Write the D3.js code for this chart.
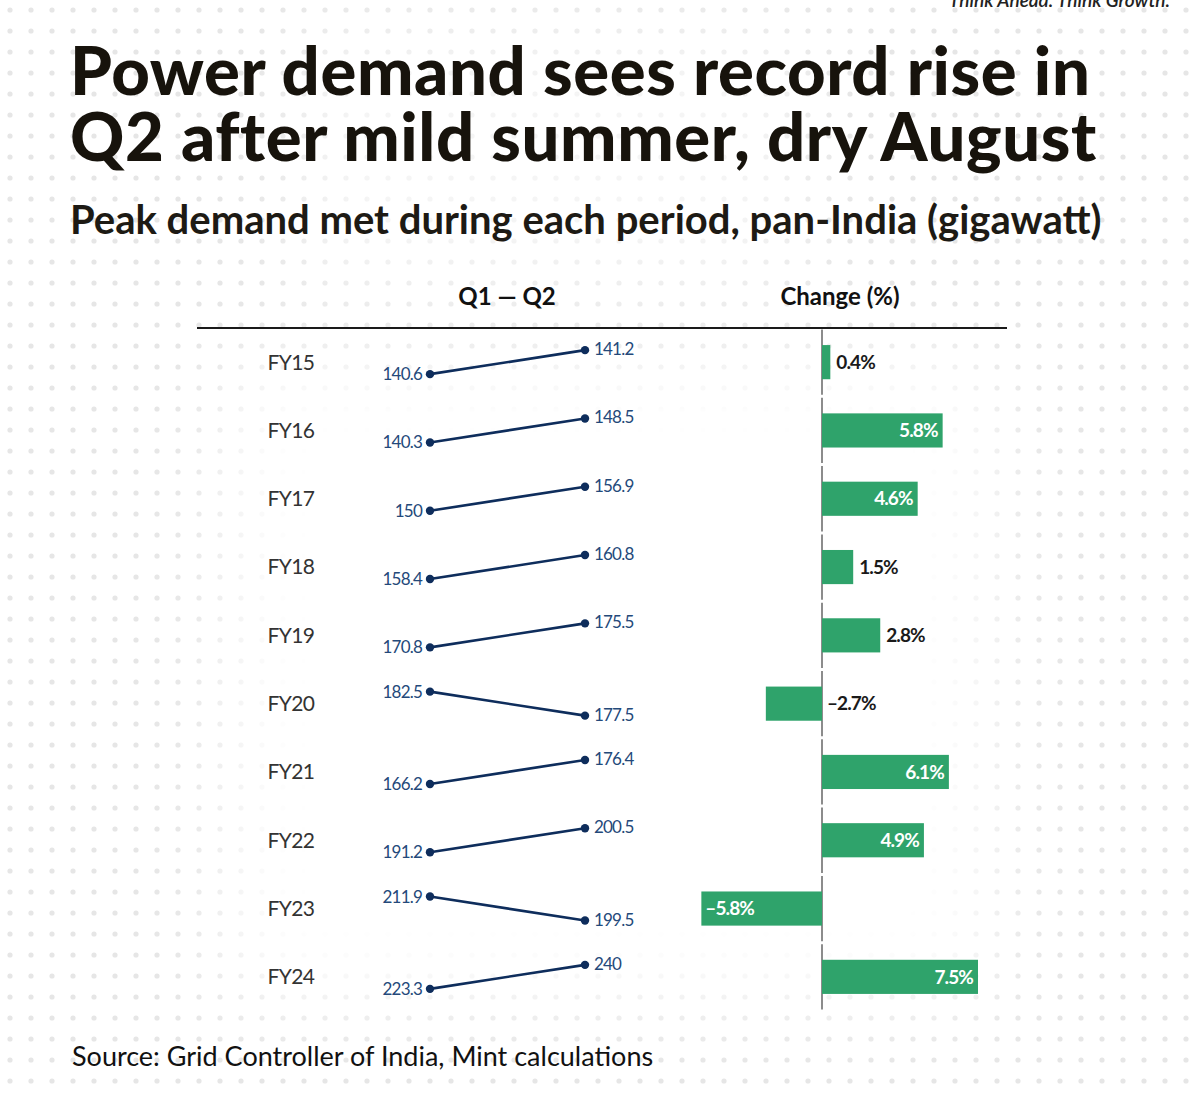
<meta charset="utf-8">
<body>
<div id="chart"></div>
</body>
<script src="https://cdn.jsdelivr.net/npm/d3@7"></script>
<script>
// data
var years = ["FY15", "FY16", "FY17", "FY18", "FY19", "FY20", "FY21", "FY22", "FY23", "FY24"];
var q1 = [140.6, 140.3, 150, 158.4, 170.8, 182.5, 166.2, 191.2, 211.9, 223.3];
var q2 = [141.2, 148.5, 156.9, 160.8, 175.5, 177.5, 176.4, 200.5, 199.5, 240];
var change = [0.4, 5.8, 4.6, 1.5, 2.8, -2.7, 6.1, 4.9, -5.8, 7.5];
var quarters = ["Q1", "Q2"];

var W = 1200, H = 1097;
var font = "Lato, 'Open Sans', sans-serif";

var svg = d3.select("#chart").append("svg")
  .attr("width", W)
  .attr("height", H)
  .style("font-family", font);

// dotted background, faded out in the middle
var defs = svg.append("defs");
var pat = defs.append("pattern")
  .attr("id", "dots")
  .attr("width", 21).attr("height", 21)
  .attr("patternUnits", "userSpaceOnUse");
pat.append("circle").attr("cx", 10).attr("cy", 10).attr("r", 2.6).attr("fill", "#e6e6e6");

defs.append("filter").attr("id", "soft")
  .attr("x", "-20%").attr("y", "-20%").attr("width", "140%").attr("height", "140%")
  .append("feGaussianBlur").attr("stdDeviation", 40);

svg.append("rect").attr("width", W).attr("height", H).attr("fill", "#fff");
svg.append("rect").attr("width", W).attr("height", H).attr("fill", "url(#dots)");
svg.append("rect")
  .attr("x", 230).attr("y", 360).attr("width", 760).attr("height", 640)
  .attr("fill", "#fff").attr("filter", "url(#soft)");
svg.append("rect")
  .attr("x", 300).attr("y", 30).attr("width", 500).attr("height", 260)
  .attr("fill", "#fff").attr("opacity", 0.6).attr("filter", "url(#soft)");

// brand strap, cut off at the top edge
svg.append("text")
  .attr("x", 1170).attr("y", 7)
  .attr("text-anchor", "end")
  .style("font-size", "19px")
  .style("font-style", "italic")
  .style("font-weight", 600)
  .attr("fill", "#222")
  .text("Think Ahead. Think Growth.");

// titles
var title = svg.append("text")
  .attr("x", 70)
  .style("font-size", "67px")
  .style("font-weight", 900)
  .style("letter-spacing", "0.6px")
  .attr("fill", "#17130c");
title.append("tspan").attr("x", 70).attr("y", 95).text("Power demand sees record rise in");
title.append("tspan").attr("x", 70).attr("y", 161).text("Q2 after mild summer, dry August");

svg.append("text")
  .attr("x", 70).attr("y", 234)
  .style("font-size", "40px")
  .style("font-weight", 700)
  .attr("fill", "#1d1a14")
  .text("Peak demand met during each period, pan-India (gigawatt)");

// column heads
svg.append("text")
  .attr("x", 507).attr("y", 305)
  .attr("text-anchor", "middle")
  .style("font-size", "24px").style("font-weight", 700)
  .attr("fill", "#111")
  .text("Q1 \u2014 Q2");
svg.append("text")
  .attr("x", 840).attr("y", 305)
  .attr("text-anchor", "middle")
  .style("font-size", "24px").style("font-weight", 700)
  .attr("fill", "#111")
  .text("Change (%)");

svg.append("line")
  .attr("x1", 197).attr("x2", 1007)
  .attr("y1", 328).attr("y2", 328)
  .attr("stroke", "#1a1a1a").attr("stroke-width", 2);

// scales
var y = d3.scaleBand()
  .domain(years)
  .range([328, 1011])
  .paddingInner(0.5)
  .paddingOuter(0.25);

var xq = d3.scalePoint().domain(quarters).range([430, 585]);
var xc = d3.scaleLinear().domain([-6, 8]).range([822 - 6 * 20.8, 822 + 8 * 20.8]);

var rows = years.map(function(d, i) {
  return { year: d, q1: q1[i], q2: q2[i], ch: change[i] };
});

function mid(d) { return y(d.year) + y.bandwidth() / 2; }
function slopeY(d) {
  // higher value of the pair sits above, the lower one below
  return d3.scaleLinear()
    .domain([Math.min(d.q1, d.q2), Math.max(d.q1, d.q2)])
    .range([mid(d) + 12, mid(d) - 12]);
}

var row = svg.selectAll("g.row")
  .data(rows)
  .enter().append("g")
  .attr("class", "row");

row.append("text")
  .attr("x", 291)
  .attr("y", mid)
  .attr("dy", "0.35em")
  .attr("text-anchor", "middle")
  .style("font-size", "21px")
  .style("letter-spacing", "-0.6px")
  .attr("fill", "#333")
  .text(function(d) { return d.year; });

// zero line drawn row by row, leaving small gaps
row.append("line")
  .attr("x1", xc(0)).attr("x2", xc(0))
  .attr("y1", function(d) { return y(d.year) - y.step() * 0.25 + 1.5; })
  .attr("y2", function(d) { return y(d.year) + y.bandwidth() + y.step() * 0.25 - 1.5; })
  .attr("stroke", "#666").attr("stroke-width", 1.5);

// slope lines
row.append("line")
  .attr("x1", xq("Q1")).attr("x2", xq("Q2"))
  .attr("y1", function(d) { return slopeY(d)(d.q1); })
  .attr("y2", function(d) { return slopeY(d)(d.q2); })
  .attr("stroke", "#0e2d5c").attr("stroke-width", 2.6);

row.append("circle")
  .attr("cx", xq("Q1"))
  .attr("cy", function(d) { return slopeY(d)(d.q1); })
  .attr("r", 4.2).attr("fill", "#0e2d5c");
row.append("circle")
  .attr("cx", xq("Q2"))
  .attr("cy", function(d) { return slopeY(d)(d.q2); })
  .attr("r", 4.2).attr("fill", "#0e2d5c");

row.append("text")
  .attr("x", xq("Q1") - 8)
  .attr("y", function(d) { return slopeY(d)(d.q1); })
  .attr("dy", "0.35em")
  .attr("text-anchor", "end")
  .style("font-size", "17px").style("letter-spacing", "-0.8px")
  .attr("fill", "#24497a")
  .text(function(d) { return d.q1; });
row.append("text")
  .attr("x", xq("Q2") + 9)
  .attr("y", function(d) { return slopeY(d)(d.q2) - 1; })
  .attr("dy", "0.35em")
  .attr("text-anchor", "start")
  .style("font-size", "17px").style("letter-spacing", "-0.8px")
  .attr("fill", "#24497a")
  .text(function(d) { return d.q2; });

// change bars
row.append("rect")
  .attr("x", function(d) { return xc(Math.min(0, d.ch)); })
  .attr("y", function(d) { return y(d.year); })
  .attr("width", function(d) { return Math.abs(xc(d.ch) - xc(0)); })
  .attr("height", y.bandwidth())
  .attr("fill", "#2fa36b");

function inside(d) { return Math.abs(d.ch) > 4; }

row.append("text")
  .attr("x", function(d) {
    if (inside(d)) return d.ch > 0 ? xc(d.ch) - 5 : xc(d.ch) + 4;
    return d.ch > 0 ? xc(d.ch) + 6 : xc(0) + 5;
  })
  .attr("y", mid)
  .attr("dy", "0.35em")
  .attr("text-anchor", function(d) { return inside(d) && d.ch > 0 ? "end" : "start"; })
  .style("font-size", "19px").style("font-weight", 700).style("letter-spacing", "-0.9px")
  .attr("fill", function(d) { return inside(d) ? "#fff" : "#1a1a1a"; })
  .text(function(d) { return (d.ch < 0 ? "\u2013" + Math.abs(d.ch) : d.ch) + "%"; });

// source
svg.append("text")
  .attr("x", 72).attr("y", 1066)
  .style("font-size", "27px")
  .attr("fill", "#111")
  .text("Source: Grid Controller of India, Mint calculations");
</script>
<style>
body { margin: 0; background: #fff; }
svg { display: block; }
</style>
